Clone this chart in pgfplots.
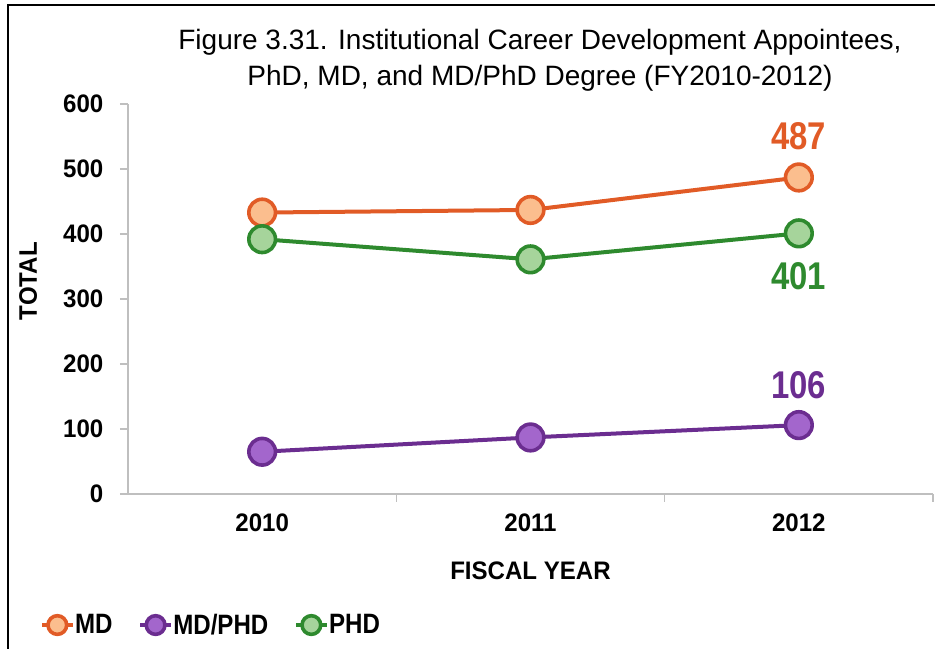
\documentclass[border=0pt]{standalone}
\usepackage{fontspec}
\setmainfont{Liberation Sans}[FakeStretch=0.95]
\newfontfamily\titlefont{Liberation Sans}
\newfontfamily\dlfont{Liberation Sans}[FakeStretch=0.85]
\newfontfamily\lgfont{Liberation Sans}[FakeStretch=0.86]
\usepackage{pgfplots}
\pgfplotsset{compat=1.18}
\definecolor{mdline}{HTML}{E15B26}
\definecolor{mdfill}{HTML}{FBBE8E}
\definecolor{mpline}{HTML}{6B2D90}
\definecolor{mpfill}{HTML}{A366CC}
\definecolor{phline}{HTML}{2E8A2E}
\definecolor{phfill}{HTML}{A6D49B}
\definecolor{axgray}{HTML}{BFBFBF}
\begin{document}
\begin{tikzpicture}[x=1pt,y=1pt]
\path[use as bounding box] (0,0) rectangle (701.25,486.75);
\draw[black, line width=1.2pt] (6,0) -- (6,483) -- (701.25,483);
\node[align=center, font=\titlefont\fontsize{21}{27}\selectfont] at (405,441.5) {Figure 3.31. Institutional Career Development Appointees,\\PhD, MD, and MD/PhD Degree (FY2010-2012)};
\begin{axis}[
  at={(96pt,116.25pt)}, anchor=south west,
  scale only axis, width=603.75pt, height=292.5pt,
  xmin=-0.5, xmax=2.5, ymin=0, ymax=600,
  clip=false,
  axis x line*=bottom, axis y line*=left,
  axis line style={draw=axgray, line width=1.1pt},
  tick align=outside, major tick length=6pt,
  ytick={0,100,...,600},
  ytick style={draw=axgray, line width=1pt},
  xtick={0,1,2}, xticklabels={2010,2011,2012},
  xtick style={draw=none},
  /pgf/number format/assume math mode=true,
  tick label style={font=\bfseries\fontsize{19}{22}\selectfont},
  yticklabel style={xshift=-9pt},
  xticklabel style={yshift=-5pt},
  xlabel={FISCAL YEAR}, ylabel={TOTAL},
  label style={font=\bfseries\fontsize{19}{22}\selectfont},
  xlabel style={at={(axis description cs:0.5,-0.197)}, anchor=center},
  ylabel style={at={(axis description cs:-0.124,0.546)}, anchor=center, rotate=0},
  legend style={at={(axis description cs:-0.1093,-0.336)}, anchor=west, draw=none, fill=none,
    inner sep=0pt, nodes={inner xsep=0.5pt},
    font=\lgfont\bfseries\fontsize{21}{23}\selectfont,
    /tikz/every even column/.append style={column sep=19pt}},
  legend columns=3,
  legend image code/.code={\draw[#1, line width=2.6pt] (0pt,0pt) -- (23pt,0pt); \draw[#1, mark size=7pt] plot coordinates {(11.5pt,0pt)};},
]
\addplot[mdline, line width=3pt, mark=*, mark size=10pt, mark options={fill=mdfill, draw=mdline, line width=2.7pt}] coordinates {(0,433) (1,437) (2,487)};
\addlegendentry{MD}
\addplot[mpline, line width=3pt, mark=*, mark size=10pt, mark options={fill=mpfill, draw=mpline, line width=2.7pt}] coordinates {(0,65) (1,87) (2,106)};
\addlegendentry{MD/PHD}
\addplot[phline, line width=3pt, mark=*, mark size=10pt, mark options={fill=phfill, draw=phline, line width=2.7pt}] coordinates {(0,392) (1,361) (2,401)};
\addlegendentry{PHD}
\draw[axgray, line width=1pt] (axis cs:0.5,0) -- ([yshift=-6pt]axis cs:0.5,0);
\draw[axgray, line width=1pt] (axis cs:1.5,0) -- ([yshift=-6pt]axis cs:1.5,0);
\draw[axgray, line width=1pt] (axis cs:2.5,0) -- ([yshift=-6pt]axis cs:2.5,0);
\node[font=\dlfont\bfseries\fontsize{29}{30}\selectfont, text=mdline] at (axis cs:2,487) [yshift=31.3pt] {487};
\node[font=\dlfont\bfseries\fontsize{29}{30}\selectfont, text=phline] at (axis cs:2,401) [yshift=-31.8pt] {401};
\node[font=\dlfont\bfseries\fontsize{29}{30}\selectfont, text=mpline] at (axis cs:2,106) [yshift=30.3pt] {106};
\end{axis}
\end{tikzpicture}
\end{document}
